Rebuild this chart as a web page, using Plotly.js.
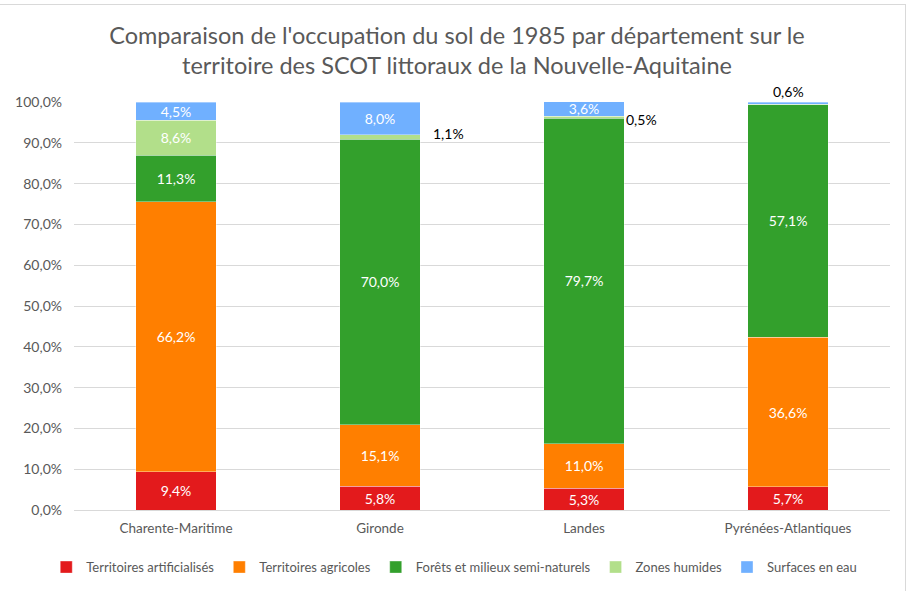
<!DOCTYPE html>
<html>
<head>
<meta charset="utf-8">
<script src="https://cdn.plot.ly/plotly-3.0.1.min.js"></script>
<style>
  html, body { margin: 0; padding: 0; background: #fff; overflow: hidden; }
  #frame { position: absolute; left: -2px; top: 4px; width: 907px; height: 600px;
           border-top: 1.5px solid #d9d9d9; border-right: 1.5px solid #d9d9d9; pointer-events: none; }
  #chart { position: absolute; left: 0; top: 0; width: 914px; height: 591px; }
</style>
</head>
<body>
<div id="chart"></div>
<div id="frame"></div>
<script>
const categories = ["Charente-Maritime", "Gironde", "Landes", "Pyrénées-Atlantiques"];
const seriesNames = ["Territoires artificialisés", "Territoires agricoles", "Forêts et milieux semi-naturels", "Zones humides", "Surfaces en eau"];
const artificialises = [9.4, 5.8, 5.3, 5.7];
const agricoles = [66.2, 15.1, 11.0, 36.6];
const forets = [11.3, 70.0, 79.7, 57.1];
const zonesHumides = [8.6, 1.1, 0.5, 0.0];
const surfacesEau = [4.5, 8.0, 3.6, 0.6];
const colors = ["#E31A1C", "#FF7F00", "#33A02C", "#B2DF8A", "#70B0FF"];

const series = [artificialises, agricoles, forets, zonesHumides, surfacesEau];
const fmt = v => v.toFixed(1).replace('.', ',') + '%';
const minInside = 3;

const font = "Lato, 'Open Sans', 'DejaVu Sans', sans-serif";
const grey = "#595959";

const traces = series.map((vals, i) => ({
  type: 'bar',
  name: seriesNames[i],
  x: categories,
  y: vals,
  marker: { color: colors[i], line: { color: 'rgba(255,255,255,0.6)', width: 0.6 } },
  text: vals.map(v => v >= minInside ? fmt(v) : ''),
  textposition: 'inside',
  insidetextanchor: 'middle',
  textangle: 0,
  constraintext: 'none',
  textfont: { family: font, size: 14, color: '#ffffff' },
  hoverinfo: 'skip'
}));

// cumulative positions for small outside labels
const annotations = [];
categories.forEach((c, ci) => {
  let base = 0;
  series.forEach((vals, si) => {
    const v = vals[ci];
    if (v > 0 && v < minInside) {
      const isTop = si === series.length - 1;
      if (isTop) {
        annotations.push({ x: c, y: base + v, text: fmt(v), showarrow: false,
          yanchor: 'bottom', xanchor: 'center', yshift: 0,
          font: { family: font, size: 14, color: '#000' } });
      } else {
        annotations.push({ x: c, y: base + v / 2, text: fmt(v), showarrow: false,
          xanchor: 'left', yanchor: 'middle', xshift: ci === 1 ? 51 : 40, yshift: ci === 1 ? 3 : -2,
          font: { family: font, size: 14, color: '#000' } });
      }
    }
    base += v;
  });
});

const layout = {
  width: 914, height: 591,
  margin: { l: 74, r: 24, t: 102, b: 81, autoexpand: false },
  paper_bgcolor: '#ffffff', plot_bgcolor: '#ffffff',
  barmode: 'stack',
  bargap: 0.603,
  separators: ', ',
  font: { family: font, color: grey, size: 13 },
  title: {
    text: "Comparaison de l'occupation du sol de 1985 par département sur le<br>territoire des SCOT littoraux de la Nouvelle-Aquitaine",
    font: { family: font, size: 23.5, color: grey },
    x: 0.5, xanchor: 'center', xref: 'container', y: 0.926, yanchor: 'middle'
  },
  xaxis: {
    type: 'category',
    showgrid: false, automargin: false, tickangle: 0,
    showline: true, linecolor: '#d9d9d9', linewidth: 1,
    ticks: '', tickfont: { family: font, size: 13.5, color: grey },
    ticklabelstandoff: 6
  },
  yaxis: {
    range: [0, 100], dtick: 10, tick0: 0, automargin: false,
    tickformat: '.1f', ticksuffix: '%',
    showgrid: true, gridcolor: '#d9d9d9', gridwidth: 1,
    zeroline: false, showline: false, ticks: '',
    tickfont: { family: font, size: 14, color: grey },
    ticklabelstandoff: 11
  },
  legend: {
    orientation: 'h', x: 0.466, xanchor: 'center', y: -0.14, yanchor: 'middle',
    font: { family: font, size: 13, color: grey },
    itemwidth: 30, tracegroupgap: 0, traceorder: 'normal'
  },
  annotations: annotations,
  showlegend: true
};

Plotly.newPlot('chart', traces, layout, { staticPlot: true, displayModeBar: false });
</script>
</body>
</html>
